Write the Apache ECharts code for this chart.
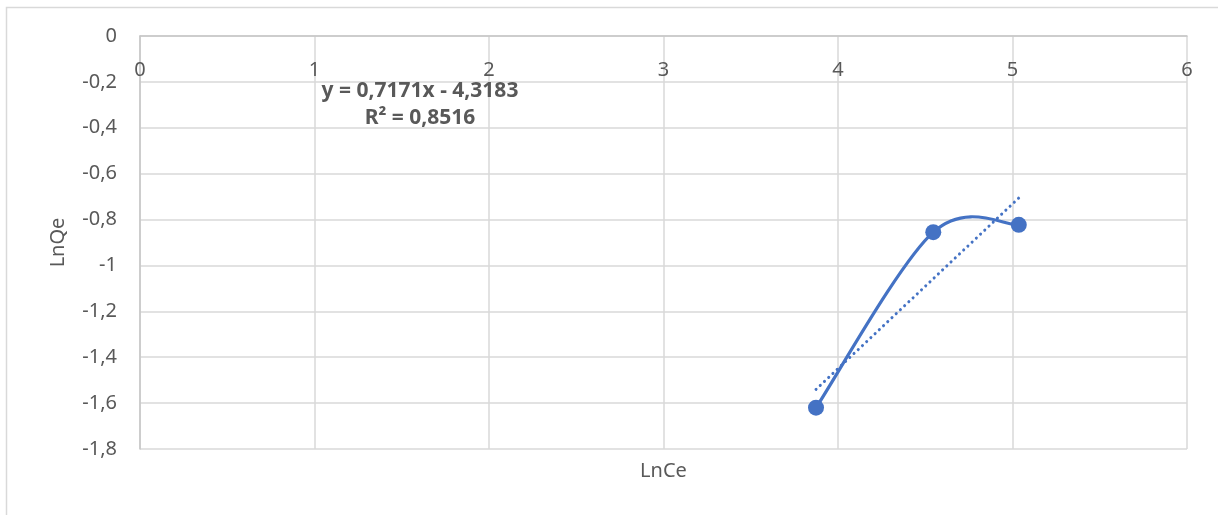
<!DOCTYPE html>
<html>
<head>
<meta charset="utf-8">
<script src="https://cdn.jsdelivr.net/npm/echarts@6/dist/echarts.min.js"></script>
<style>
  html, body { margin: 0; padding: 0; background: #fff; }
  #chart { width: 1218px; height: 515px; }
</style>
</head>
<body>
<div id="chart"></div>
<script>
// Data
var lnCe = [3.874, 4.546, 5.036];
var lnQe = [-1.620, -0.855, -0.823];
// Linear trendline endpoints (y = 0,7171x - 4,3183)
var trendX = [3.874, 5.036];
var trendY = [-1.540, -0.706];
var equationLines = ['y = 0,7171x - 4,3183', 'R² = 0,8516'];
var xTicks = { min: 0, max: 6, interval: 1 };
var yTicks = { min: -1.8, max: 0, interval: 0.2 };

var FONT = 'Noto Sans';
var TXT = '#595959';
var BLUE = '#4472C4';

var chart = echarts.init(document.getElementById('chart'), null, { renderer: 'canvas' });

function fmt(v) {
  return String(+Number(v).toFixed(1)).replace('.', ',');
}

var points = lnCe.map(function (x, i) { return [x, lnQe[i]]; });

// Excel-style smoothed segment (Catmull-Rom / Bezier, tension 1/6), drawn via axis coords
function renderSmooth(params, api) {
  var i = params.dataIndex;
  var n = points.length;
  if (i >= n - 1) return null;
  var P = points.map(function (p) { return api.coord(p); });
  var p0 = P[Math.max(i - 1, 0)], p1 = P[i], p2 = P[i + 1], p3 = P[Math.min(i + 2, n - 1)];
  var cp1 = [p1[0] + (p2[0] - p0[0]) / 6, p1[1] + (p2[1] - p0[1]) / 6];
  var cp2 = [p2[0] - (p3[0] - p1[0]) / 6, p2[1] - (p3[1] - p1[1]) / 6];
  return {
    type: 'bezierCurve',
    shape: { x1: p1[0], y1: p1[1], x2: p2[0], y2: p2[1], cpx1: cp1[0], cpy1: cp1[1], cpx2: cp2[0], cpy2: cp2[1] },
    style: { stroke: BLUE, lineWidth: 3.2, fill: null, lineCap: 'round' }
  };
}

var option = {
  backgroundColor: '#ffffff',
  animation: false,
  grid: { left: 140, right: 31, top: 36, bottom: 66, containLabel: false },
  xAxis: [{
    type: 'value',
    position: 'top',
    min: xTicks.min, max: xTicks.max, interval: xTicks.interval,
    axisLine: { show: true, lineStyle: { color: '#c6c6c6', width: 1.5 } },
    axisTick: { show: false },
    axisLabel: { inside: true, margin: 24, color: TXT, fontFamily: FONT, fontSize: 20, formatter: fmt },
    splitLine: { show: true, lineStyle: { color: '#d9d9d9', width: 1.5 } }
  }, {
    type: 'value',
    position: 'bottom',
    min: xTicks.min, max: xTicks.max, interval: xTicks.interval,
    name: 'LnCe',
    nameLocation: 'middle',
    nameGap: 12,
    nameTextStyle: { color: TXT, fontFamily: FONT, fontSize: 20 },
    axisLine: { show: false },
    axisTick: { show: false },
    axisLabel: { show: false },
    splitLine: { show: false }
  }],
  yAxis: {
    type: 'value',
    min: yTicks.min, max: yTicks.max, interval: yTicks.interval,
    name: 'LnQe',
    nameLocation: 'middle',
    nameGap: 72,
    nameTextStyle: { color: TXT, fontFamily: FONT, fontSize: 20 },
    axisLine: { show: true, onZero: false, lineStyle: { color: '#c6c6c6', width: 1.5 } },
    axisTick: { show: false },
    axisLabel: { margin: 23, color: TXT, fontFamily: FONT, fontSize: 20, formatter: fmt },
    splitLine: { show: true, lineStyle: { color: '#d9d9d9', width: 1.5 } }
  },
  graphic: [{
    type: 'rect',
    silent: true,
    shape: { x: 6.5, y: 7.5, width: 1400, height: 700 },
    style: { fill: 'none', stroke: '#d9d9d9', lineWidth: 1.5 },
    z: -10
  }, {
    type: 'text',
    silent: true,
    x: 420, y: 78,
    z: 100,
    style: {
      text: equationLines.join('\n'),
      align: 'center',
      verticalAlign: 'top',
      fill: TXT,
      font: 'bold 21px "Noto Sans"',
      lineHeight: 27
    }
  }],
  series: [{
    name: 'trend',
    type: 'line',
    xAxisIndex: 0,
    data: trendX.map(function (x, i) { return [x, trendY[i]]; }),
    showSymbol: false,
    symbol: 'none',
    lineStyle: { color: BLUE, width: 3, type: [0.1, 5.7], cap: 'round' },
    z: 2
  }, {
    name: 'LnQe-curve',
    type: 'custom',
    xAxisIndex: 0,
    data: points,
    renderItem: renderSmooth,
    z: 3
  }, {
    name: 'LnQe',
    type: 'scatter',
    xAxisIndex: 0,
    data: points,
    symbol: 'circle',
    symbolSize: 16,
    itemStyle: { color: BLUE, opacity: 1 },
    z: 4
  }]
};
chart.setOption(option);
</script>
</body>
</html>
